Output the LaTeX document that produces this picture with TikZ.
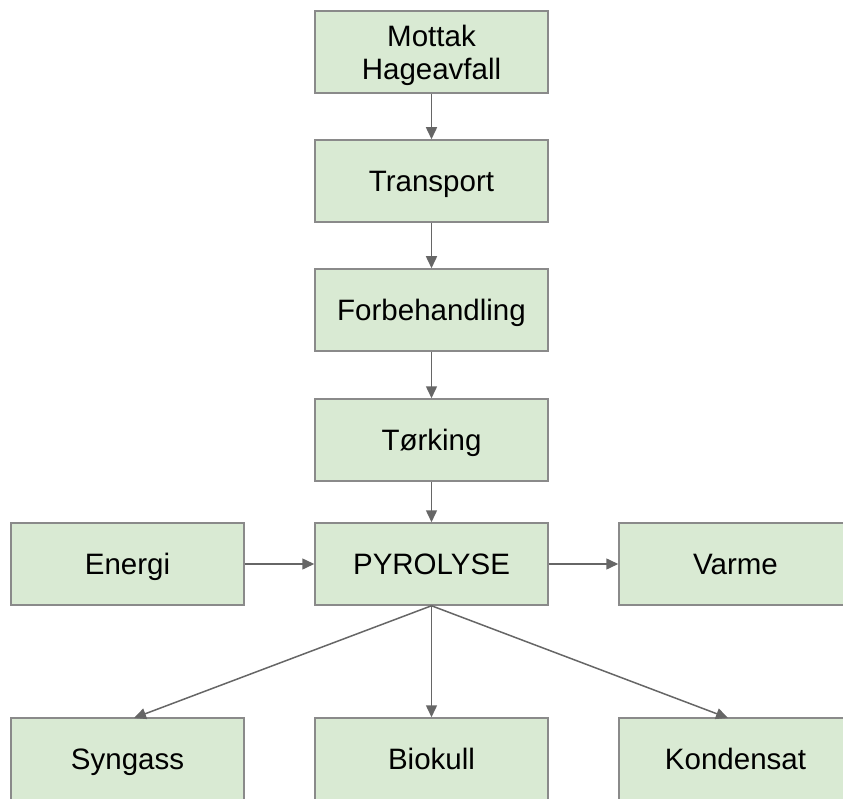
\documentclass[tikz,border=0pt]{standalone}
\usepackage{fontspec}
\setmainfont{Liberation Sans}
\usetikzlibrary{arrows.meta}
\definecolor{boxfill}{HTML}{D9EAD3}
\definecolor{boxline}{HTML}{8A8A8A}
\definecolor{arrowline}{HTML}{666666}
\begin{document}
\begin{tikzpicture}[x=1pt,y=-1pt,
  basebox/.style={draw=boxline,fill=boxfill,line width=1.5pt,
    minimum width=233pt,minimum height=82pt,inner sep=0pt,
    align=center,font=\fontsize{29.5}{33}\selectfont,text depth=0pt},
  stepbox/.style={basebox,text height=21pt},
  flow/.style={draw=arrowline,line width=1.5pt,
    -{Triangle[length=12pt,width=11pt]}}]
\useasboundingbox (0,0) rectangle (843,799);
\clip (0,0) rectangle (843,799);
\node[basebox] (mottak) at (431.5,52) {Mottak\\Hageavfall};
\node[stepbox] (transport) at (431.5,181) {Transport};
\node[stepbox] (forbeh) at (431.5,310) {Forbehandling};
\node[stepbox] (torking) at (431.5,440) {Tørking};
\node[stepbox] (pyro) at (431.5,564) {PYROLYSE};
\node[stepbox] (energi) at (127.5,564) {Energi};
\node[stepbox] (varme) at (735.5,564) {Varme};
\node[stepbox] (syngass) at (127.5,759) {Syngass};
\node[stepbox] (biokull) at (431.5,759) {Biokull};
\node[stepbox] (kondensat) at (735.5,759) {Kondensat};
\coordinate (synin) at (134,718);
\coordinate (kondin) at (728,718);
\draw[flow] (mottak) -- (transport);
\draw[flow] (transport) -- (forbeh);
\draw[flow] (forbeh) -- (torking);
\draw[flow] (torking) -- (pyro);
\draw[flow] (energi) -- (pyro);
\draw[flow] (pyro) -- (varme);
\draw[flow] (pyro.south) -- (synin);
\draw[flow] (pyro) -- (biokull);
\draw[flow] (pyro.south) -- (kondin);
\end{tikzpicture}
\end{document}
